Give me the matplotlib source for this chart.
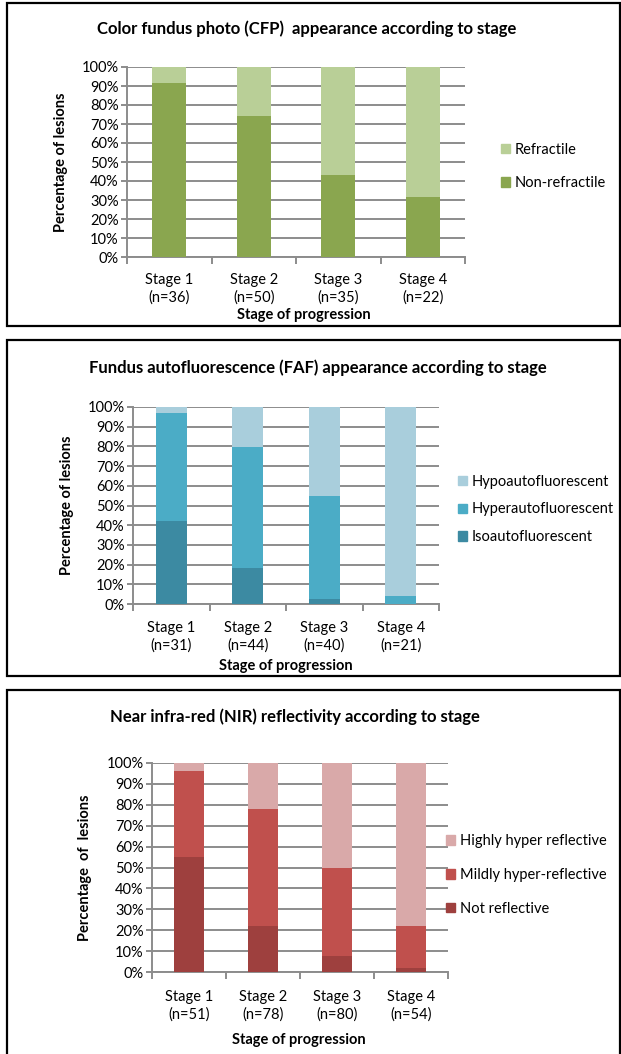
import matplotlib
matplotlib.use("Agg")
import matplotlib.pyplot as plt
from matplotlib.patches import Rectangle, Patch
import numpy as np

plt.rcParams['font.family'] = ['Lato', 'DejaVu Sans']

W, H = 621, 1054

stages = ["Stage 1", "Stage 2", "Stage 3", "Stage 4"]
yticks = np.arange(0, 101, 10)

# CFP (percent of lesions)
cfp_n = [36, 50, 35, 22]
cfp_nonrefractile = [91.7, 74.0, 42.9, 31.8]
cfp_refractile = [8.3, 26.0, 57.1, 68.2]

# FAF (percent of lesions)
faf_n = [31, 44, 40, 21]
faf_iso = [41.9, 18.2, 2.5, 0.0]
faf_hyper = [54.9, 61.4, 52.5, 4.0]
faf_hypo = [3.2, 20.4, 45.0, 96.0]

# NIR (percent of lesions)
nir_n = [51, 78, 80, 54]
nir_not = [54.9, 21.8, 7.5, 1.9]
nir_mild = [41.2, 56.4, 42.5, 20.3]
nir_high = [3.9, 21.8, 50.0, 77.8]

GRID = '#8c8c8c'
FS = 10.5


def fx(px):
    return px / W


def fy(py):
    return 1 - py / H


fig = plt.figure(figsize=(W / 100, H / 100), dpi=100)


def draw_panel(box, ax_px, title, title_xy, n, series, names, colors,
               ylabel, ylabel_x, xlabel_xy, legend_xy, leg_space, xpad):
    # outer frame
    x0, y0, x1, y1 = box
    fig.patches.append(Rectangle((fx(x0), fy(y1)), fx(x1 - x0), (y1 - y0) / H,
                                 transform=fig.transFigure, fill=False,
                                 lw=1.6, ec='black'))
    l, t, r, b = ax_px
    ax = fig.add_axes([fx(l), fy(b), fx(r - l), (b - t) / H])
    x = np.arange(len(stages))
    bottom = np.zeros(len(stages))
    handles = []
    for vals, name, c in zip(series, names, colors):
        ax.bar(x, vals, width=0.4, bottom=bottom, color=c, label=name, zorder=3)
        bottom += np.array(vals)
        handles.append(Patch(color=c, label=name))

    ax.set_xlim(-0.5, 3.5)
    ax.set_ylim(0, 100)
    ax.set_yticks(yticks)
    ax.set_yticklabels([f"{v}%" for v in yticks], fontsize=FS)
    ax.yaxis.grid(True, color=GRID, lw=1.4, zorder=0)
    ax.set_axisbelow(True)
    for s in ['top', 'right']:
        ax.spines[s].set_visible(False)
    for s in ['left', 'bottom']:
        ax.spines[s].set_color(GRID)
        ax.spines[s].set_linewidth(1.4)
    ax.tick_params(axis='y', direction='out', length=4, width=1.4, color=GRID, pad=2)
    ax.set_xticks(np.arange(-0.5, 4, 1.0))
    ax.set_xticklabels([])
    ax.tick_params(axis='x', which='major', direction='out', length=5, width=1.4, color=GRID)
    ax.set_xticks(x, minor=True)
    ax.set_xticklabels([f"{s}\n(n={k})" for s, k in zip(stages, n)], minor=True,
                       fontsize=FS, linespacing=1.3)
    ax.tick_params(axis='x', which='minor', length=0, pad=xpad)

    ax.set_ylabel(ylabel, fontsize=FS, fontweight='bold')
    ax.yaxis.set_label_coords(fx(ylabel_x), fy(ax_px[1] + (ax_px[3] - ax_px[1]) / 2),
                              transform=fig.transFigure)
    ax.yaxis.label.set_va('center')
    ax.set_xlabel("Stage of progression", fontsize=FS, fontweight='bold')
    ax.xaxis.set_label_coords(fx(xlabel_xy[0]), fy(xlabel_xy[1]), transform=fig.transFigure)
    ax.xaxis.label.set_va('center')

    fig.text(fx(title_xy[0]), fy(title_xy[1]), title, ha='center', va='center',
             fontsize=12, fontweight='bold')

    ax.legend(handles=handles[::-1], loc='center left',
              bbox_to_anchor=(fx(legend_xy[0]), fy(legend_xy[1])),
              bbox_transform=fig.transFigure, frameon=False, fontsize=FS,
              handlelength=0.65, handleheight=0.65, handletextpad=0.3,
              labelspacing=leg_space, borderpad=0, borderaxespad=0)
    return ax


draw_panel((7, 3, 620, 326), (127, 67, 465, 257),
           "Color fundus photo (CFP)  appearance according to stage", (307, 29),
           cfp_n, [cfp_nonrefractile, cfp_refractile],
           ["Non-refractile", "Refractile"], ['#8aa64f', '#b9cf97'],
           "Percentage of lesions", 61, (304, 315), (501, 166.5), 1.35, 11.5)

draw_panel((7, 340, 620, 676), (133, 407, 439, 604),
           "Fundus autofluorescence (FAF) appearance according to stage", (318, 368),
           faf_n, [faf_iso, faf_hyper, faf_hypo],
           ["Isoautofluorescent", "Hyperautofluorescent", "Hypoautofluorescent"],
           ['#3c8aa2', '#4bacc6', '#a9cedc'],
           "Percentage of lesions", 67, (286, 666), (458, 509.5), 0.95, 12)

draw_panel((7, 690, 620, 1070), (152, 763, 448, 972),
           "Near infra-red (NIR) reflectivity according to stage", (295, 717),
           nir_n, [nir_not, nir_mild, nir_high],
           ["Not reflective", "Mildly hyper-reflective", "Highly hyper reflective"],
           ['#9e403e', '#c0504d', '#d9a9a9'],
           "Percentage  of  lesions", 85, (299, 1040), (446, 875), 1.35, 13)

fig.savefig("out.png", dpi=100)
